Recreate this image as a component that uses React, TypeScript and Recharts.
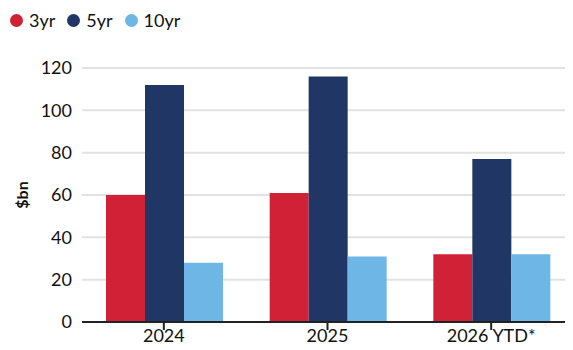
import { BarChart, Bar, XAxis, YAxis, CartesianGrid } from "recharts";

const years = ["2024", "2025", "2026 YTD*"];
const threeYr = [60, 61, 32];
const fiveYr = [112, 116, 77];
const tenYr = [28, 31, 32];
const yTicks = [0, 20, 40, 60, 80, 100, 120];

const SERIES = [
  { key: "3yr", color: "#d12136" },
  { key: "5yr", color: "#203665" },
  { key: "10yr", color: "#6db6e6" },
];

const data = years.map((year, i) => ({
  year,
  "3yr": threeYr[i],
  "5yr": fiveYr[i],
  "10yr": tenYr[i],
}));

const FONT = "Lato, 'Open Sans', sans-serif";

function TopLegend() {
  return (
    <div
      style={{
        position: "absolute",
        top: 9,
        left: 10,
        display: "flex",
        gap: 12,
        fontFamily: FONT,
        fontSize: 18,
        color: "#111",
      }}
    >
      {SERIES.map((s) => (
        <div key={s.key} style={{ display: "flex", alignItems: "center", gap: 6 }}>
          <span
            style={{ width: 13, height: 13, borderRadius: "50%", backgroundColor: s.color, display: "inline-block" }}
          />
          <span>{s.key}</span>
        </div>
      ))}
    </div>
  );
}

export default function App() {
  return (
    <div style={{ margin: -8, width: 573, height: 350, background: "#fff", overflow: "hidden", position: "relative" }}>
      <TopLegend />
      <BarChart
        width={573}
        height={350}
        data={data}
        margin={{ top: 68, right: 0, bottom: 0, left: 0 }}
        barCategoryGap={24}
        barGap={0}
      >
        <CartesianGrid vertical={false} stroke="#e2e2e2" strokeWidth={2} />
        <XAxis
          dataKey="year"
          height={28}
          tick={{ fill: "#111", fontSize: 18, fontFamily: FONT }}
          tickLine={{ stroke: "#222", strokeWidth: 2 }}
          axisLine={{ stroke: "#222", strokeWidth: 2 }}
          tickSize={8}
          tickMargin={-1}
          interval={0}
        />
        <YAxis
          width={82}
          domain={[0, 120]}
          ticks={yTicks}
          axisLine={false}
          tickLine={false}
          tickMargin={4}
          tick={{ fill: "#111", fontSize: 18, fontFamily: FONT }}
          label={{
            value: "$bn",
            angle: -90,
            position: "insideLeft",
            offset: 22,
            style: { fill: "#111", fontSize: 16, fontWeight: 700, fontFamily: FONT, textAnchor: "middle" },
          }}
        />
        {SERIES.map((s) => (
          <Bar key={s.key} dataKey={s.key} fill={s.color} isAnimationActive={false} />
        ))}
      </BarChart>
    </div>
  );
}
